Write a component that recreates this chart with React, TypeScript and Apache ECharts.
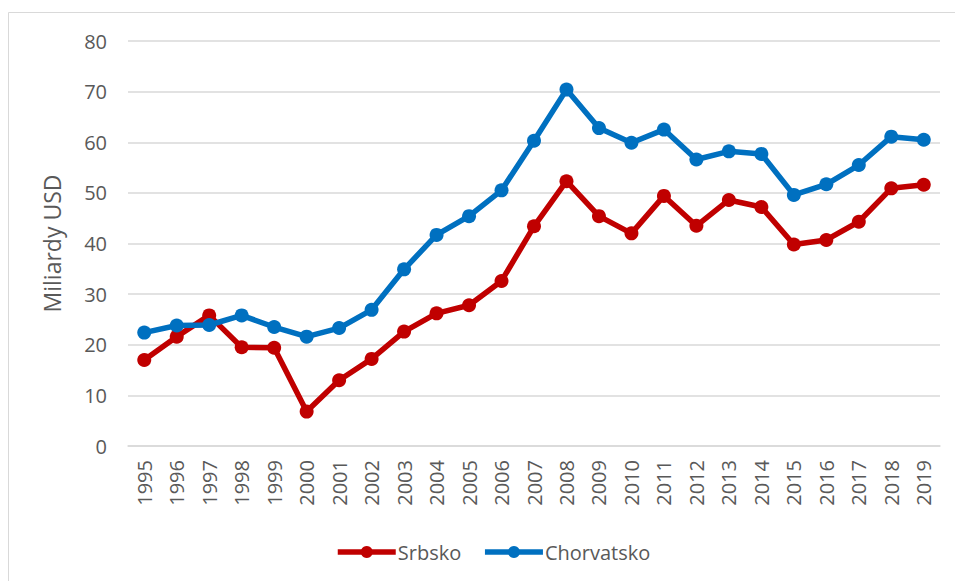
import React, { useEffect, useRef } from "react";
import * as echarts from "echarts";

const years = ["1995","1996","1997","1998","1999","2000","2001","2002","2003","2004","2005","2006","2007","2008","2009","2010","2011","2012","2013","2014","2015","2016","2017","2018","2019"];
const srbsko = [17.0, 21.6, 25.8, 19.5, 19.4, 6.8, 13.0, 17.2, 22.6, 26.2, 27.8, 32.6, 43.4, 52.3, 45.4, 42.0, 49.4, 43.5, 48.6, 47.2, 39.8, 40.7, 44.3, 50.9, 51.6];
const chorvatsko = [22.4, 23.8, 23.9, 25.8, 23.5, 21.6, 23.3, 26.9, 34.9, 41.7, 45.4, 50.5, 60.3, 70.4, 62.8, 59.9, 62.5, 56.6, 58.2, 57.7, 49.6, 51.7, 55.5, 61.1, 60.5];
const seriesNames = ["Srbsko", "Chorvatsko"];
const seriesColors = ["#C00000", "#0070C0"];
const yAxisName = "Miliardy USD";

const FONT = "'Open Sans', sans-serif";
const TXT = "#595959";

export default function App() {
  const ref = useRef<HTMLDivElement>(null);
  useEffect(() => {
    if (!ref.current) return;
    const chart = echarts.init(ref.current, undefined, { renderer: "svg" });
    const mk = (name: string, data: number[], color: string) => ({
      name,
      type: "line",
      data,
      symbol: "circle",
      symbolSize: 14,
      itemStyle: { color },
      lineStyle: { color, width: 5.5 },
      emphasis: { disabled: true },
    });
    chart.setOption({
      animation: false,
      textStyle: { fontFamily: FONT },
      graphic: [
        {
          type: "rect",
          shape: { x: 8.5, y: 12.5, width: 1000, height: 1000 },
          style: { fill: "none", stroke: "#d9d9d9", lineWidth: 1 },
          silent: true,
        },
      ],
      grid: { left: 128, right: 15, top: 41, bottom: 135 },
      legend: {
        left: 330,
        top: 537,
        itemWidth: 58,
        itemHeight: 15,
        itemGap: 21,
        textStyle: { color: TXT, fontSize: 20, fontFamily: FONT, padding: [0, 0, 0, -3] },
        data: seriesNames.map((n, i) => ({
          name: n,
          itemStyle: { color: seriesColors[i] },
          lineStyle: { color: seriesColors[i], width: 5.5 },
        })),
      },
      xAxis: {
        type: "category",
        data: years,
        boundaryGap: true,
        axisLine: { show: true, lineStyle: { color: "#d9d9d9", width: 1.5 } },
        axisTick: { show: false },
        axisLabel: { rotate: 90, margin: 14, color: TXT, fontSize: 20, fontFamily: FONT, interval: 0 },
      },
      yAxis: {
        type: "value",
        min: 0,
        max: 80,
        interval: 10,
        name: yAxisName,
        nameLocation: "middle",
        nameGap: 65,
        nameTextStyle: { color: TXT, fontSize: 23, fontFamily: FONT },
        axisLine: { show: false },
        axisTick: { show: false },
        axisLabel: { margin: 21, color: TXT, fontSize: 20, fontFamily: FONT },
        splitLine: { lineStyle: { color: "#d9d9d9", width: 1.5 } },
      },
      series: [mk(seriesNames[0], srbsko, seriesColors[0]), mk(seriesNames[1], chorvatsko, seriesColors[1])],
    });
    return () => chart.dispose();
  }, []);
  return (
    <div
      ref={ref}
      style={{ position: "fixed", left: 0, top: 0, width: 955, height: 581, background: "#fff" }}
    />
  );
}
